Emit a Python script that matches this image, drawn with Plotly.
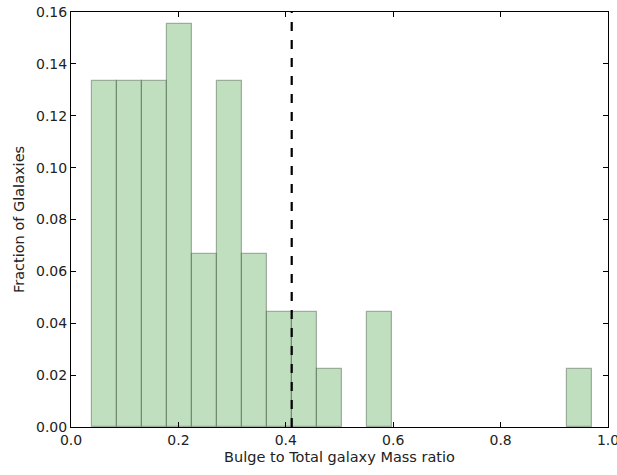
import numpy as np
import plotly.graph_objects as go

# Histogram of bulge-to-total mass ratios (normalised counts, 45 galaxies)
bin_start = 0.039
bin_end = 0.970
counts = [6, 6, 6, 7, 3, 6, 3, 2, 2, 1, 0, 2, 0, 0, 0, 0, 0, 0, 0, 1]
n_galaxies = 45
marker_value = 0.411
x_ticks = [0.0, 0.2, 0.4, 0.6, 0.8, 1.0]
y_ticks = [0.00, 0.02, 0.04, 0.06, 0.08, 0.10, 0.12, 0.14, 0.16]

edges = np.linspace(bin_start, bin_end, len(counts) + 1)
centers = 0.5 * (edges[:-1] + edges[1:])
widths = np.diff(edges)
fractions = np.array(counts) / n_galaxies
filled = fractions > 0  # empty bins draw nothing

fig = go.Figure()
fig.add_trace(go.Bar(
    x=centers[filled], y=fractions[filled], width=widths[filled],
    marker=dict(color="rgba(128,192,128,0.5)",
                line=dict(color="rgba(70,90,70,0.45)", width=1.2)),
    showlegend=False,
))
fig.add_shape(type="line", x0=marker_value, x1=marker_value, y0=0, y1=0.16,
              xref="x", yref="y",
              line=dict(color="black", width=2.2, dash="dash"))

axis_common = dict(showgrid=False, zeroline=False, showline=True,
                   linecolor="black", linewidth=1, mirror="ticks",
                   ticks="inside", ticklen=5, tickcolor="black",
                   ticklabeloverflow="allow", automargin=False,
                   tickfont=dict(size=14, color="#222"))
fig.update_xaxes(range=[0, 1.0], tickvals=x_ticks, tickformat=".1f",
                 title=dict(text="Bulge to Total galaxy Mass ratio",
                            font=dict(size=14.5, color="#222"), standoff=5),
                 **axis_common)
fig.update_yaxes(range=[0, 0.16], tickvals=y_ticks, tickformat=".2f",
                 title=dict(text="Fraction of Glalaxies",
                            font=dict(size=14.5, color="#222"), standoff=7),
                 **axis_common)
fig.update_layout(width=617, height=475,
                  margin=dict(l=71, r=9, t=12, b=48),
                  plot_bgcolor="white", paper_bgcolor="white",
                  bargap=0,
                  font=dict(family="DejaVu Sans"))
fig.write_html("out.html")
